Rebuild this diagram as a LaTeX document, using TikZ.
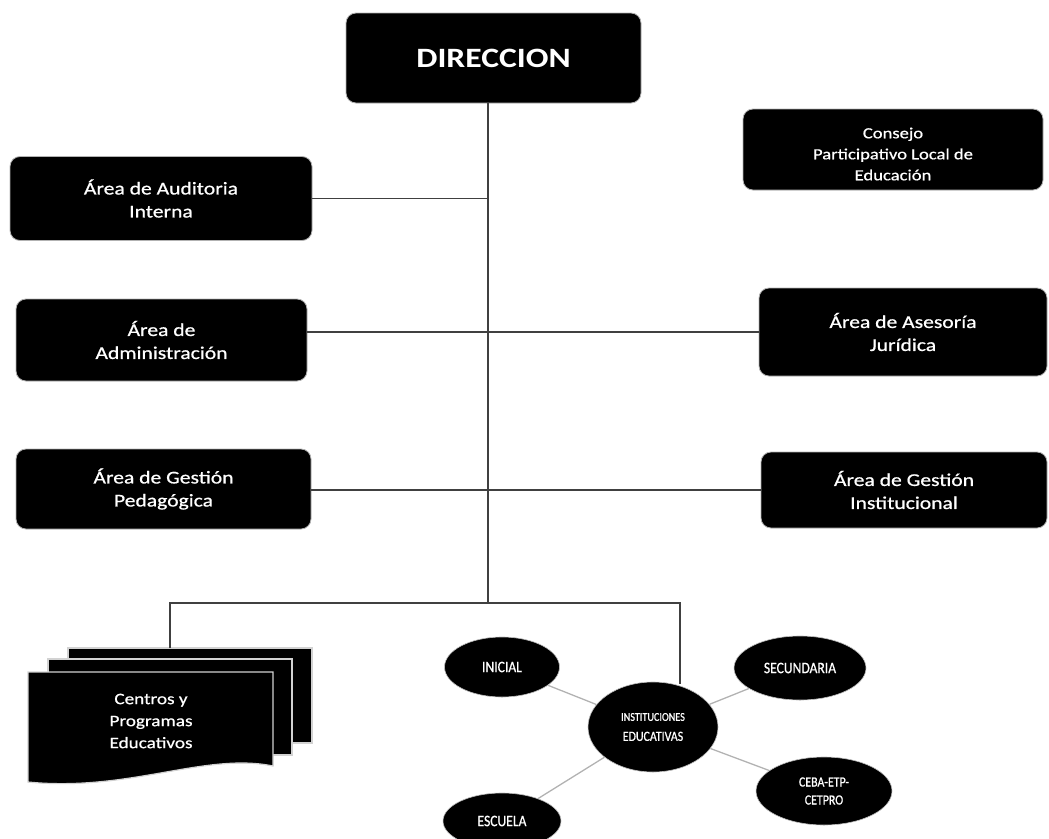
\documentclass[tikz,border=0pt]{standalone}
\usepackage{fontspec}
\setmainfont{Carlito}[FakeStretch=1.2]
\newfontfamily\boxf{Carlito}[FakeStretch=1.2, FakeBold=0.7]
\newfontfamily\condf{Carlito}[FakeStretch=0.85, FakeBold=0.7]
\usetikzlibrary{shapes.geometric}
\tikzset{
  box/.style={rectangle, rounded corners=10pt, fill=black, draw=gray!60, line width=0.8pt,
    text=white, align=center, inner sep=0pt, font=\boxf\fontsize{18}{23}\selectfont},
  oval/.style={ellipse, fill=black, draw=gray!50, line width=0.6pt, text=white, align=center,
    inner sep=0pt, font=\condf\fontsize{16}{20}\selectfont},
  link/.style={draw=black!75, line width=1.8pt},
  spoke/.style={draw=gray!60, line width=1.3pt},
  docsheet/.style={fill=black, draw=gray!35, line width=1.2pt}
}
\begin{document}
\begin{tikzpicture}[x=1pt,y=-1pt]
\useasboundingbox (0,0) rectangle (1049,838);
% boxes
\node[box, minimum width=295pt, minimum height=90pt, font=\bfseries\fontsize{28}{32}\selectfont] (dir) at (493.5,58) {DIRECCION};
\node[box, minimum width=300pt, minimum height=81pt] (cons) at (893,149.5) {};
\node[text=white, align=center, inner sep=0pt, font=\boxf\fontsize{15.5}{21}\selectfont] (constext) at (893,154) {Consejo\\Participativo Local de\\Educación};
\node[box, minimum width=302pt, minimum height=84pt] (aud) at (161,198.5) {Área de Auditoria\\Interna};
\node[box, minimum width=291pt, minimum height=82pt] (adm) at (161.5,340) {Área de\\Administración};
\node[box, minimum width=288pt, minimum height=88pt] (jur) at (903,332) {Área de Asesoría\\Jurídica};
\node[box, minimum width=295pt, minimum height=80pt] (ped) at (163.5,489) {Área de Gestión\\Pedagógica};
\node[box, minimum width=286pt, minimum height=76pt] (ins) at (904,490) {Área de Gestión\\Institucional};
% multi-document
\draw[docsheet] (68,648) rectangle (312,743);
\draw[docsheet] (48,659) rectangle (292,755);
\draw[docsheet] (28,672) -- (273,672) -- (273,766) .. controls (205,752) and (130,792) .. (28,782) -- cycle;
\node[text=white, align=center, font=\boxf\fontsize{16}{22}\selectfont] (docs) at (151,721) {Centros y\\Programas\\Educativos};
% ellipses
\node[oval, minimum width=130pt, minimum height=90pt] (inst) at (653,727) {{\fontsize{12}{16}\selectfont INSTITUCIONES}\\{\fontsize{14}{16}\selectfont EDUCATIVAS}};
\node[oval, minimum width=115pt, minimum height=60pt] (ini) at (502,667) {INICIAL};
\node[oval, minimum width=132pt, minimum height=64pt] (sec) at (800,668) {SECUNDARIA};
\node[oval, minimum width=136pt, minimum height=68pt, font=\condf\fontsize{14}{18}\selectfont] (ceba) at (824,791) {CEBA-ETP-\\CETPRO};
\node[oval, minimum width=118pt, minimum height=56pt] (esc) at (502,821) {ESCUELA};
% connectors
\coordinate (spine) at (488,0);
\coordinate (junc) at (488,603);
\coordinate (dtop) at (170,648);
\coordinate (itop) at (680,684);
\draw[link] (dir.south -| spine) -- (junc);
\draw[link] (aud.east) -- (aud.east -| spine);
\draw[link] (adm.east |- jur.west) -- (jur.west);
\draw[link] (ped.east |- ins.west) -- (ins.west);
\draw[link] (dtop) |- (junc) -| (itop);
\draw[spoke] (inst) -- (ini);
\draw[spoke] (inst) -- (sec);
\draw[spoke] (inst) -- (ceba);
\draw[spoke] (inst) -- (esc);
\end{tikzpicture}
\end{document}
